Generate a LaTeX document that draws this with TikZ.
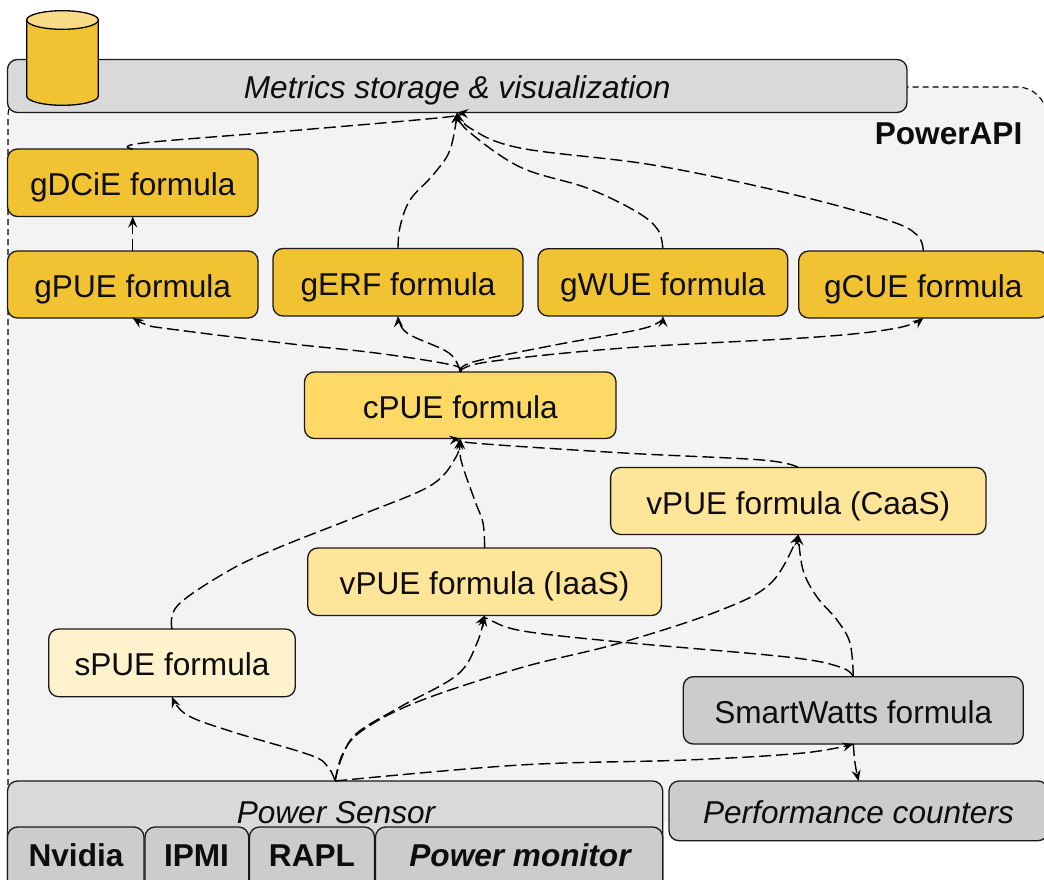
\documentclass[tikz,border=0pt]{standalone}
\usepackage{fontspec}
\setmainfont{Liberation Sans}
\usetikzlibrary{arrows.meta}
\newcommand\bx[7]{%
  \pgfmathsetmacro\cxx{(#2+#4)/2}\pgfmathsetmacro\cyy{(#3+#5)/2}%
  \pgfmathsetmacro\wxx{#4-#2}\pgfmathsetmacro\hyy{#5-#3}%
  \node[box,#6,minimum width=\wxx pt,minimum height=\hyy pt] (#1) at (\cxx,\cyy) {#7};}
\newcommand\tfont{\fontsize{31.6}{36}\selectfont}
\tikzset{
  box/.style={draw=black!90,line width=1.3pt,rounded corners=10pt,inner sep=0pt,outer sep=0pt,font=\tfont,text=black!95,text height=26pt,text depth=0pt},
  gold/.style={fill=gold1}, cpue/.style={fill=gold2}, vpue/.style={fill=gold3}, spue/.style={fill=gold4},
  lgrey/.style={fill=grey1}, dgrey/.style={fill=grey2},
  lbl/.style={inner sep=0pt,text=black!95,text height=22pt,text depth=0pt},
  flow/.style={draw=black,line width=1.4pt,dash pattern=on 12pt off 5pt,-{Stealth[length=11pt,width=9pt,inset=4pt]}},
  sm/.style={smooth,tension=.6},
}
\definecolor{gold1}{HTML}{F1C232}\definecolor{gold2}{HTML}{FFD966}\definecolor{gold3}{HTML}{FFE599}\definecolor{gold4}{HTML}{FFF2CC}
\definecolor{grey1}{HTML}{D9D9D9}\definecolor{grey2}{HTML}{CCCCCC}\definecolor{bgc}{HTML}{F3F3F3}\definecolor{captop}{HTML}{F7DC85}
\begin{document}
\begin{tikzpicture}[x=1pt,y=-1pt]
\useasboundingbox (0,0) rectangle (1044,880);
\clip (0,0) rectangle (1044,880);
% container
\node[fill=bgc,rounded corners=29pt,minimum width=1038.5pt,minimum height=735pt,inner sep=0pt,outer sep=0pt] (api) at (527.25,454.5) {};
\draw[black,line width=1.1pt,dash pattern=on 6pt off 4pt,rounded corners=29pt] (8,785) -- (8,87) -- (1046.5,87) -- (1046.5,785);
\node[lbl,font=\tfont\bfseries,anchor=east] (apilbl) at (1022.5,134) {PowerAPI};
% storage
\bx{metrics}{7.5}{59.5}{907}{112.5}{lgrey}{\itshape Metrics storage \& visualization}
% cylinder
\path[draw=black,fill=gold1,line width=1.3pt] (26.7,20) -- (26.7,96) arc[start angle=180,end angle=360,x radius=35.8pt,y radius=9.3pt] -- (98.3,20) -- cycle;
\path[draw=black,fill=captop,line width=1.3pt] (62.5,20) ellipse[x radius=35.8pt,y radius=9.3pt];
% formulas
\bx{gdcie}{7.5}{149}{258}{216.5}{gold}{gDCiE formula}
\bx{gpue}{7.5}{251}{258}{318}{gold}{gPUE formula}
\bx{gerf}{273}{248.5}{523}{316}{gold}{gERF formula}
\bx{gwue}{538}{248.7}{787.7}{316}{gold}{gWUE formula}
\bx{gcue}{798.7}{251}{1048}{318}{gold}{gCUE formula}
\bx{cpue}{304.5}{372}{616}{438.5}{cpue}{cPUE formula}
\bx{vcaas}{610.6}{467.5}{986}{534.5}{vpue}{vPUE formula (CaaS)}
\bx{viaas}{307.7}{548}{661.5}{615.5}{vpue}{vPUE formula (IaaS)}
\bx{spue}{48.7}{629}{295.3}{696.7}{spue}{sPUE formula}
\bx{smart}{683.3}{676.7}{1023.3}{744}{dgrey}{SmartWatts formula}
% sensors
\bx{psens}{7.5}{781}{662.7}{900}{lgrey}{}
\node[lbl,font=\tfont\itshape] (pslbl) at (336,812) {Power Sensor};
\bx{perf}{669}{781}{1048}{840.7}{dgrey}{\itshape Performance counters}
\bx{nvidia}{7.5}{827}{144}{915}{dgrey}{}
\bx{ipmi}{145}{827}{248.7}{915}{dgrey}{}
\bx{rapl}{249.5}{827}{374.5}{915}{dgrey}{}
\bx{pmon}{375.5}{827}{662.7}{915}{dgrey}{}
\node[lbl,font=\tfont\bfseries] (nvlbl) at (76,855) {Nvidia};
\node[lbl,font=\tfont\bfseries] (iplbl) at (196.5,855) {IPMI};
\node[lbl,font=\tfont\bfseries] (ralbl) at (312,855) {RAPL};
\node[lbl,font=\tfont\bfseries\itshape] (pmlbl) at (520,855) {Power monitor};
% connectors
\draw[flow] (gpue.north) -- (gdcie.south);
\draw[flow] plot[sm] coordinates {(gdcie.north) (143,143) (300,130) (447,117) (metrics.south)};
\draw[flow] plot[sm] coordinates {(gerf.north) (400,227) (410,200) (433,175) (450,150) (metrics.south)};
\draw[flow] plot[sm] coordinates {(gwue.north) (658,230) (637,212) (587,188) (520,167) (467,130) (metrics.south)};
\draw[flow] plot[sm] coordinates {(gcue.north) (917,235) (887,220) (787,193) (653,165) (520,148) (470,128) (metrics.south)};
\draw[flow] plot[sm] coordinates {(cpue.north) (452,365) (376,353) (283,343) (170,329) (147,325) (gpue.south)};
\draw[flow] plot[sm] coordinates {(cpue.north) (449,353) (407,333) (gerf.south)};
\draw[flow] plot[sm] coordinates {(cpue.north) (473,362) (555,345) (645,328) (gwue.south)};
\draw[flow] plot[sm] coordinates {(cpue.north) (487,362) (624,348) (817,337) (897,328) (gcue.south)};
\draw[flow] plot[sm] coordinates {(vcaas.north) (762,460) (624,453) (473,443) (cpue.south)};
\draw[flow] plot[sm] coordinates {(viaas.north) (483,523) (474.6,500) (461,460) (cpue.south)};
\draw[flow] plot[sm] coordinates {(spue.north) (178,605) (230,570) (280,547) (366,513) (431.5,485) (456,457) (cpue.south)};
\draw[flow] plot[sm] coordinates {(psens.north) (328,767) (310,755) (233,732) (187,715) (spue.south)};
\draw[flow] plot[sm] coordinates {(psens.north) (342,757) (357,733) (400,707) (457,675) (477,643) (viaas.south)};
\draw[flow] plot[sm] coordinates {(psens.north) (343,753) (363,730) (417,702) (520,668) (620,643) (721,610) (772,582) (vcaas.south)};
\draw[flow] plot[sm] coordinates {(psens.north) (520,765) (687,760) (803,753) (smart.south)};
\draw[flow] plot[sm] coordinates {(smart.north) (850,643) (837,620) (817,597) (803,570) (vcaas.south)};
\draw[flow] plot[sm] coordinates {(smart.north) (840,667) (787,657) (620,642) (523,631) (490,620) (viaas.south)};
\draw[flow] plot[sm] coordinates {(smart.south) (855,763) (perf.north)};
\end{tikzpicture}
\end{document}
